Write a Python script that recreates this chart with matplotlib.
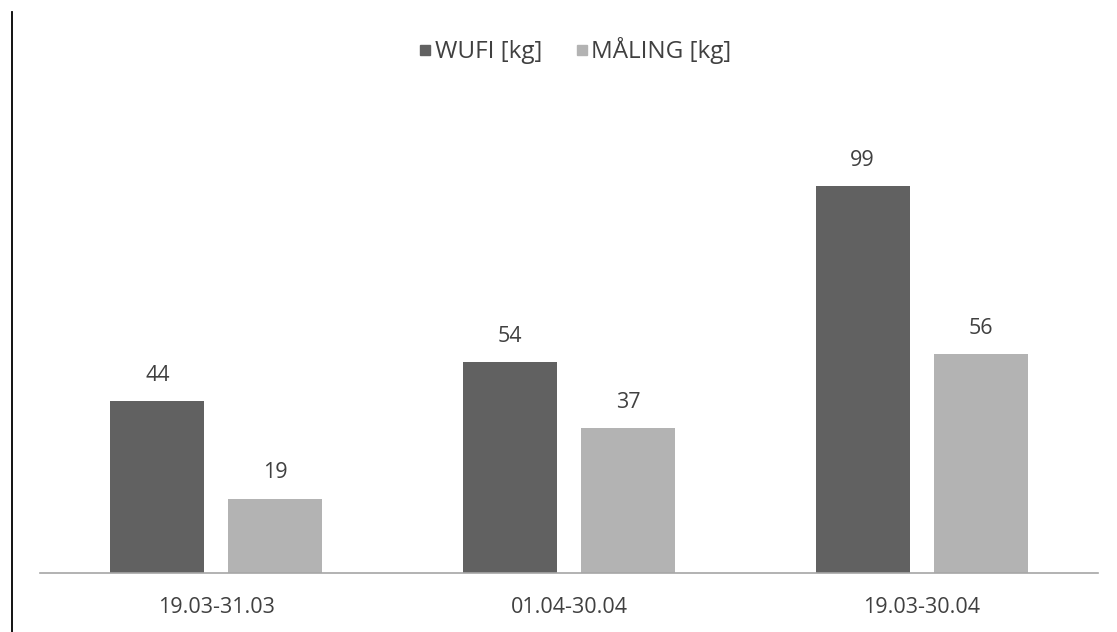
import matplotlib
matplotlib.use("Agg")
import matplotlib.pyplot as plt
from matplotlib.lines import Line2D
import numpy as np

categories = ["19.03-31.03", "01.04-30.04", "19.03-30.04"]
wufi = [44, 54, 99]
maling = [19, 37, 56]
series_names = ["WUFI [kg]", "MÅLING [kg]"]

plt.rcParams['font.family'] = ['Open Sans', 'DejaVu Sans']
text_color = "#404040"
dark = "#616161"
light = "#b3b3b3"

W, H = 1117, 632
fig = plt.figure(figsize=(W / 100, H / 100), dpi=100)
ax = fig.add_axes([40 / W, 1 - 573 / H, (1098 - 40) / W, 469 / H])

x = np.arange(len(categories))
bw = 0.267
gap = 0.068
off = (bw + gap) / 2
b1 = ax.bar(x - off, wufi, bw, color=dark, label=series_names[0])
b2 = ax.bar(x + off, maling, bw, color=light, label=series_names[1])

for bars, vals in ((b1, wufi), (b2, maling)):
    for rect, v in zip(bars, vals):
        ax.annotate(f"{v}", (rect.get_x() + rect.get_width() / 2, v),
                    xytext=(0, 11), textcoords="offset points",
                    ha="center", va="bottom", fontsize=15.5, color=text_color)

ax.set_xlim(-0.5, len(categories) - 0.5)
ax.set_ylim(0, 120)
ax.set_xticks(x)
ax.set_xticklabels(categories, fontsize=15.5, color=text_color)
ax.tick_params(axis="x", length=0, pad=17)
ax.set_yticks([])
for s in ("top", "right", "left"):
    ax.spines[s].set_visible(False)
ax.spines["bottom"].set_color("#a6a6a6")
ax.spines["bottom"].set_linewidth(1.2)

handles = [Line2D([], [], marker="s", linestyle="none", markersize=7.5,
                  markerfacecolor=c, markeredgecolor=c) for c in (dark, light)]
fig.legend(handles, series_names, loc="center", bbox_to_anchor=(575 / W, 1 - 51 / H),
           ncol=2, frameon=False, fontsize=17.5, handlelength=0.55,
           handletextpad=0.12, columnspacing=1.35, labelcolor=text_color)

# Frame line on the left edge
fig.add_artist(Line2D([11.5 / W, 11.5 / W], [0, 1 - 12 / H], color="black", linewidth=1.3))

fig.savefig("out.png", dpi=100, facecolor="white")
